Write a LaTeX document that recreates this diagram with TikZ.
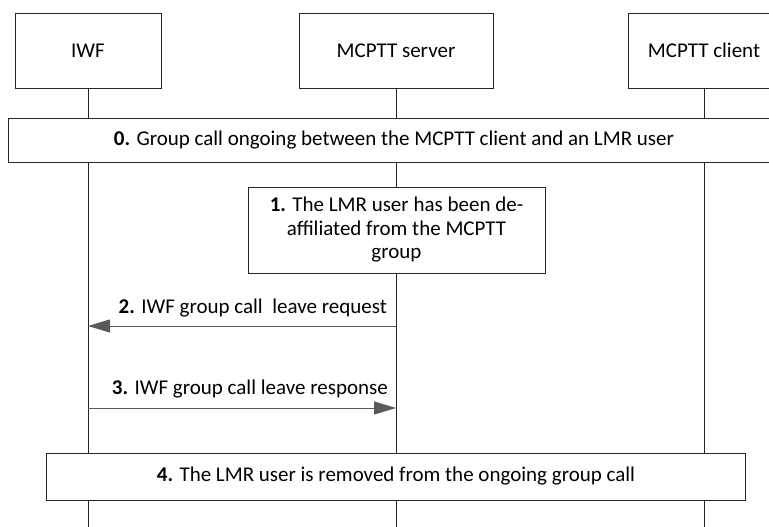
\documentclass[tikz,border=0pt]{standalone}
\usepackage{fontspec}
\setmainfont{Carlito}
\usetikzlibrary{arrows.meta}
\begin{document}
\begin{tikzpicture}[x=1pt,y=-1pt,
  txt/.style={font=\fontsize{21}{23.5}\selectfont},
  ent/.style={txt, draw=black!85, fill=white, line width=0.8pt, minimum height=75pt, inner sep=0pt},
  bar/.style={txt, draw=black!85, fill=white, line width=0.8pt, inner sep=0pt},
  life/.style={draw=black!85, line width=0.8pt},
  msg/.style={draw=black!65, line width=1pt, -{Triangle[length=22pt,width=13pt]}},
  lbl/.style={txt, anchor=base east, inner sep=0pt}]
\useasboundingbox (0,0) rectangle (769,527);
% entities
\node[ent, minimum width=146pt] (iwf) at (88,50.5) {IWF};
\node[ent, minimum width=194pt] (server) at (396,50.5) {MCPTT server};
\node[ent, minimum width=152pt] (client) at (704,50.5) {MCPTT client};
% lifeline ends
\coordinate (iwfend) at (88,527);
\coordinate (serverend) at (396,527);
\coordinate (clientend) at (704,527);
\draw[life] (iwf.south) -- (iwfend);
\draw[life] (server.south) -- (serverend);
\draw[life] (client.south) -- (clientend);
% step boxes
\node[bar, minimum width=772pt, minimum height=44pt] (b0) at (394,140)
  {\textbf{0.} Group call ongoing between the MCPTT client and an LMR user};
\node[bar, minimum width=297pt, minimum height=86pt, align=center] (b1) at (396.5,230)
  {\textbf{1.} The LMR user has been de-\\affiliated from the MCPTT\\group};
\node[bar, minimum width=699pt, minimum height=47pt] (b4) at (396,476.5)
  {\textbf{4.} The LMR user is removed from the ongoing group call};
% messages
\coordinate (s2) at (396,326);
\coordinate (i2) at (88,326);
\coordinate (i3) at (88,408);
\coordinate (s3) at (396,408);
\draw[msg] (s2) -- (i2);
\draw[msg] (i3) -- (s3);
\node[lbl] (l2) at (387,313) {\textbf{2.} IWF group call\ \ leave request};
\node[lbl] (l3) at (388,394) {\textbf{3.} IWF group call leave response};
\end{tikzpicture}
\end{document}
